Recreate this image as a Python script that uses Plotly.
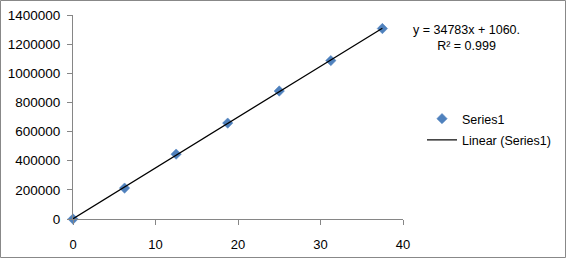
import numpy as np
import plotly.graph_objects as go

# Data
x_values = [0, 6.25, 12.5, 18.75, 25, 31.25, 37.5]
y_values = [0, 212000, 445000, 658000, 878000, 1087000, 1307000]
series_name = "Series1"
trend_name = "Linear (Series1)"
equation_text = "y = 34783x + 1060."
r2_text = "R² = 0.999"
x_ticks = [0, 10, 20, 30, 40]
y_ticks = [0, 200000, 400000, 600000, 800000, 1000000, 1200000, 1400000]

# Linear trendline by least squares
slope, intercept = np.polyfit(x_values, y_values, 1)
trend_x = [x_values[0], x_values[-1]]
trend_y = [slope * v + intercept for v in trend_x]

W, H = 567, 259
L, R, T, B = 73, 164, 15, 40
pw, ph = W - L - R, H - T - B

def px_to_paper_x(p):
    return (p - L) / pw

def px_to_paper_y(p):
    return (H - B - p) / ph

FONT = "Liberation Sans"
AXIS_COLOR = "#868686"

fig = go.Figure()
fig.add_trace(go.Scatter(
    x=x_values, y=y_values, mode="markers", name=series_name,
    marker=dict(symbol="diamond", size=8, color="#4F81BD",
                line=dict(width=0.5, color="#4F81BD")),
    cliponaxis=False, legendgroup="a",
))
fig.add_trace(go.Scatter(
    x=trend_x, y=trend_y, mode="lines", name=trend_name,
    line=dict(color="black", width=1.2),
    cliponaxis=False, legendgroup="b",
))

fig.update_layout(
    width=W, height=H,
    margin=dict(l=L, r=R, t=T, b=B, pad=0, autoexpand=False),
    paper_bgcolor="white", plot_bgcolor="white",
    font=dict(family=FONT, size=13, color="black"),
    legend=dict(x=px_to_paper_x(422), y=px_to_paper_y(104),
                xanchor="left", yanchor="top",
                font=dict(size=12.5), tracegroupgap=2,
                bgcolor="rgba(0,0,0,0)"),
    showlegend=True,
    xaxis=dict(range=[0, 40], tickvals=x_ticks, showgrid=False, zeroline=False,
               showline=True, linecolor=AXIS_COLOR, linewidth=1,
               ticks="outside", ticklen=5, tickcolor=AXIS_COLOR, automargin=False,
               ticklabelstandoff=8, tickfont=dict(size=13)),
    yaxis=dict(range=[0, 1400000], tickvals=y_ticks, tickformat="d",
               showgrid=False, zeroline=False, automargin=False,
               showline=True, linecolor=AXIS_COLOR, linewidth=1,
               ticks="outside", ticklen=5, tickcolor=AXIS_COLOR,
               ticklabelstandoff=4, tickfont=dict(size=13.5)),
    shapes=[dict(type="rect", xref="paper", yref="paper",
                 x0=px_to_paper_x(0.5), x1=px_to_paper_x(565.5),
                 y0=px_to_paper_y(257.5), y1=px_to_paper_y(0.5),
                 line=dict(color="#888888", width=1), layer="below")],
    annotations=[dict(xref="paper", yref="paper",
                      x=px_to_paper_x(466), y=px_to_paper_y(38),
                      xanchor="center", yanchor="middle", showarrow=False,
                      align="center", text=equation_text + "<br>" + r2_text,
                      font=dict(size=12.5))],
)

fig.write_html("out.html")
